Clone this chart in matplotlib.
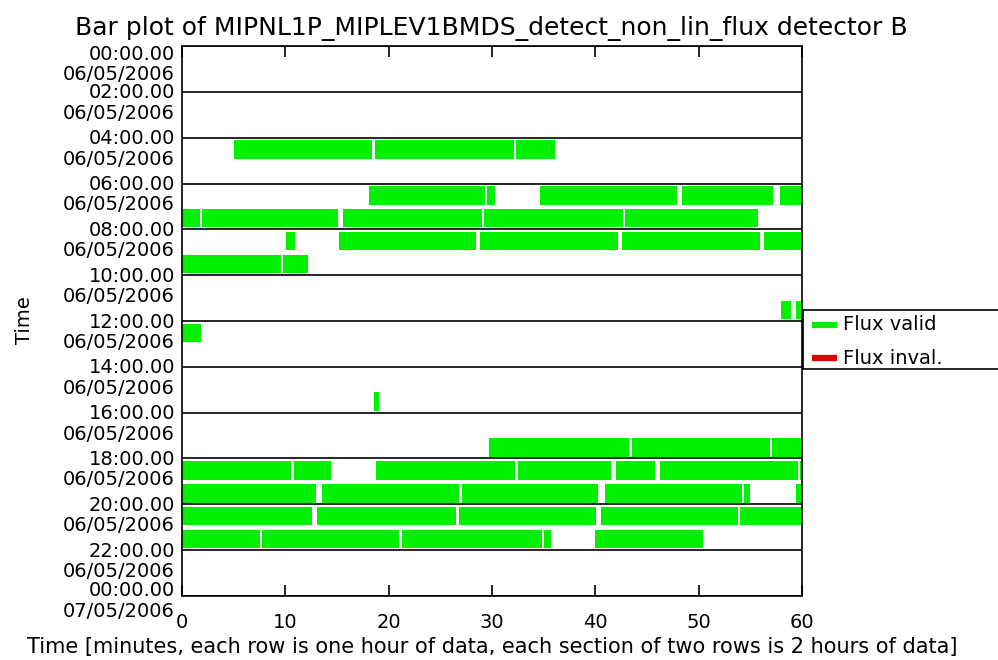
import matplotlib
matplotlib.use("Agg")
import matplotlib.pyplot as plt
import matplotlib.transforms as mtransforms
from matplotlib.lines import Line2D

# hour row (0 = 00:00-01:00 on 06/05/2006), start and end minute of each valid-flux bar
seg_hour = [4, 4, 4,
            6, 6, 6, 6, 6,
            7, 7, 7, 7, 7,
            8, 8, 8, 8, 8,
            9, 9,
            11, 11,
            12,
            15,
            17, 17, 17,
            18, 18, 18, 18, 18, 18, 18,
            19, 19, 19, 19, 19, 19,
            20, 20, 20, 20, 20,
            21, 21, 21, 21, 21]
seg_start = [5.0, 18.7, 32.3,
             18.1, 29.5, 34.6, 48.4, 57.9,
             0.0, 1.9, 15.6, 29.2, 42.9,
             10.1, 15.2, 28.8, 42.6, 56.3,
             0.0, 9.8,
             58.0, 59.4,
             0.0,
             18.6,
             29.7, 43.5, 57.1,
             0.0, 10.8, 18.75, 32.5, 42.0, 46.3, 59.8,
             0.0, 13.5, 27.1, 40.9, 54.4, 59.4,
             0.0, 13.1, 26.8, 40.5, 54.0,
             0.0, 7.7, 21.3, 35.0, 40.0]
seg_end = [18.4, 32.1, 36.1,
           29.3, 30.3, 47.9, 57.2, 60.0,
           1.7, 15.1, 29.0, 42.7, 55.7,
           10.9, 28.5, 42.2, 55.9, 60.0,
           9.6, 12.2,
           58.9, 60.0,
           1.8,
           19.1,
           43.3, 56.9, 60.0,
           10.5, 14.4, 32.2, 41.5, 45.8, 59.6, 60.0,
           13.0, 26.8, 40.3, 54.2, 55.0, 60.0,
           12.6, 26.5, 40.1, 53.8, 60.0,
           7.5, 21.0, 34.8, 35.7, 50.4]

section_hours = list(range(0, 25, 2))
section_times = ["00:00.00", "02:00.00", "04:00.00", "06:00.00", "08:00.00",
                 "10:00.00", "12:00.00", "14:00.00", "16:00.00", "18:00.00",
                 "20:00.00", "22:00.00", "00:00.00"]
section_dates = ["06/05/2006"] * 12 + ["07/05/2006"]
x_ticks = [0, 10, 20, 30, 40, 50, 60]

title = "Bar plot of MIPNL1P_MIPLEV1BMDS_detect_non_lin_flux detector B"
xlabel = "Time [minutes, each row is one hour of data, each section of two rows is 2 hours of data]"
legend_labels = ["Flux valid", "Flux inval."]

green = "#00f000"
red = "#e00000"

fig = plt.figure(figsize=(9.98, 6.6), dpi=100)
W, H = 998.0, 660.0
ax = fig.add_axes([182 / W, 1 - 596 / H, 620 / W, 550 / H])

ax.barh([h + 0.52 for h in seg_hour],
        [e - s for s, e in zip(seg_start, seg_end)],
        left=seg_start, height=0.8, color=green, linewidth=0)

for h in section_hours:
    ax.axhline(h, color="black", lw=1.2, zorder=3)

ax.set_xlim(0, 60)
ax.set_ylim(24, 0)
ax.set_yticks([])
ax.set_xticks(x_ticks)
ax.set_xticklabels([str(t) for t in x_ticks], fontsize=14)
ax.tick_params(axis="x", direction="in", length=8, width=1.2, top=True, pad=12)
for sp in ax.spines.values():
    sp.set_linewidth(1.2)

# two-line section labels on the left (baseline offsets in pixels below the line)
trans = mtransforms.blended_transform_factory(ax.transAxes, ax.transData)
shift = {0: 7, 12: -6}
for i, (h, t, d) in enumerate(zip(section_hours, section_times, section_dates)):
    dy = shift.get(i, 0)
    off1 = trans + mtransforms.ScaledTranslation(-7 / 100, -(6.5 + dy) / 100, fig.dpi_scale_trans)
    off2 = trans + mtransforms.ScaledTranslation(-7 / 100, -(27 + dy) / 100, fig.dpi_scale_trans)
    ax.text(0, h, t, transform=off1, ha="right", va="baseline", fontsize=14)
    ax.text(0, h, d, transform=off2, ha="right", va="baseline", fontsize=14)

fig.text(25 / W, 1 - 320 / H, "Time", rotation=90, ha="center", va="center", fontsize=14)
fig.text(492 / W, 1 - 653 / H, xlabel, ha="center", va="baseline", fontsize=15)
fig.text(491 / W, 1 - 35 / H, title, ha="center", va="baseline", fontsize=18)

# legend box sticking out at the right edge
lax = fig.add_axes([803 / W, 1 - 369 / H, 260 / W, 59 / H])
lax.set_xlim(0, 260)
lax.set_ylim(59, 0)
lax.set_xticks([])
lax.set_yticks([])
for sp in lax.spines.values():
    sp.set_linewidth(1.2)
lax.add_line(Line2D([9, 34], [15, 15], color=green, lw=4.5, solid_capstyle="butt"))
lax.add_line(Line2D([9, 34], [48, 48], color=red, lw=4.5, solid_capstyle="butt"))
lax.text(40, 15, legend_labels[0], va="center", ha="left", fontsize=14)
lax.text(40, 48, legend_labels[1], va="center", ha="left", fontsize=14)

fig.savefig("out.png", dpi=100)
